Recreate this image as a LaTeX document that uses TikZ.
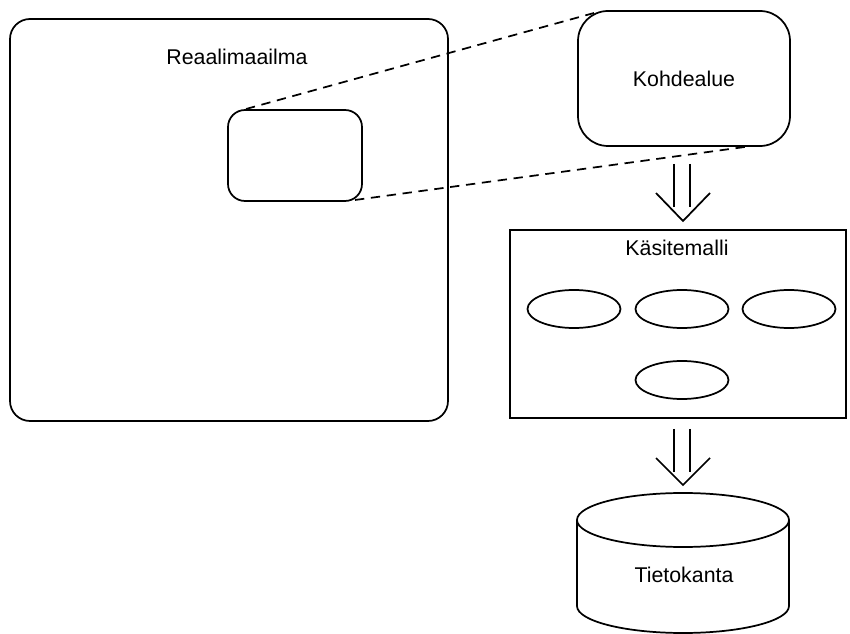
\documentclass[tikz,border=0pt]{standalone}
\usepackage{fontspec}
\setmainfont{Liberation Sans}
\usetikzlibrary{shapes.geometric}
\begin{document}
\begin{tikzpicture}[x=0.75pt,y=-0.75pt,
  every node/.style={font=\fontsize{16pt}{19pt}\selectfont},
  frame/.style={draw,line width=1.3pt,inner sep=0pt},
  link/.style={line width=1.3pt,dash pattern=on 7pt off 5pt},
  stroke/.style={line width=1.3pt},
  blob/.style={draw,line width=1.3pt,ellipse,minimum width=93*0.75pt,minimum height=38*0.75pt,inner sep=0pt}]
\useasboundingbox (0,0) rectangle (850,634);
% real world frame and the selected area inside it
\node[frame,rounded corners=20*0.75pt,minimum width=438*0.75pt,minimum height=402*0.75pt] (world) at (229,220) {};
\node (worldtitle) at (237,57) {Reaalimaailma};
\node[frame,rounded corners=17*0.75pt,minimum width=134*0.75pt,minimum height=91*0.75pt] (area) at (295,155.5) {};
% target domain
\node[frame,rounded corners=30*0.75pt,minimum width=212*0.75pt,minimum height=135*0.75pt] (domain) at (684,78.5) {Kohdealue};
% zoom lines
\coordinate (a1) at (246,109);
\coordinate (b1) at (594,13);
\coordinate (a2) at (355,200);
\coordinate (b2) at (752,146);
\draw[link] (a1) -- (b1);
\draw[link] (a2) -- (b2);
% first double arrow
\coordinate (p1) at (674,164);
\coordinate (p2) at (674,207);
\coordinate (q1) at (690,164);
\coordinate (q2) at (690,207);
\coordinate (h1) at (656,193);
\coordinate (t1) at (683,221);
\coordinate (h2) at (710,193);
\draw[stroke] (p1) -- (p2) (q1) -- (q2);
\draw[stroke,line join=miter] (h1) -- (t1) -- (h2);
% conceptual model
\node[frame,minimum width=336*0.75pt,minimum height=188*0.75pt] (model) at (678,324) {};
\node (modeltitle) at (677,248) {Käsitemalli};
\node[blob] (e1) at (574,309) {};
\node[blob] (e2) at (682,309) {};
\node[blob] (e3) at (789,309) {};
\node[blob] (e4) at (682,380) {};
% second double arrow
\coordinate (r1) at (674,429);
\coordinate (r2) at (674,472);
\coordinate (s1) at (690,429);
\coordinate (s2) at (690,472);
\coordinate (h3) at (656,458);
\coordinate (t2) at (683,485);
\coordinate (h4) at (710,458);
\draw[stroke] (r1) -- (r2) (s1) -- (s2);
\draw[stroke,line join=miter] (h3) -- (t2) -- (h4);
% database cylinder
\draw[stroke] (683,520) ellipse [x radius=106,y radius=27];
\draw[stroke] (577,520) -- (577,606) arc[start angle=180,end angle=0,x radius=106,y radius=27] -- (789,520);
\node (db) at (684,575) {Tietokanta};
\end{tikzpicture}
\end{document}
